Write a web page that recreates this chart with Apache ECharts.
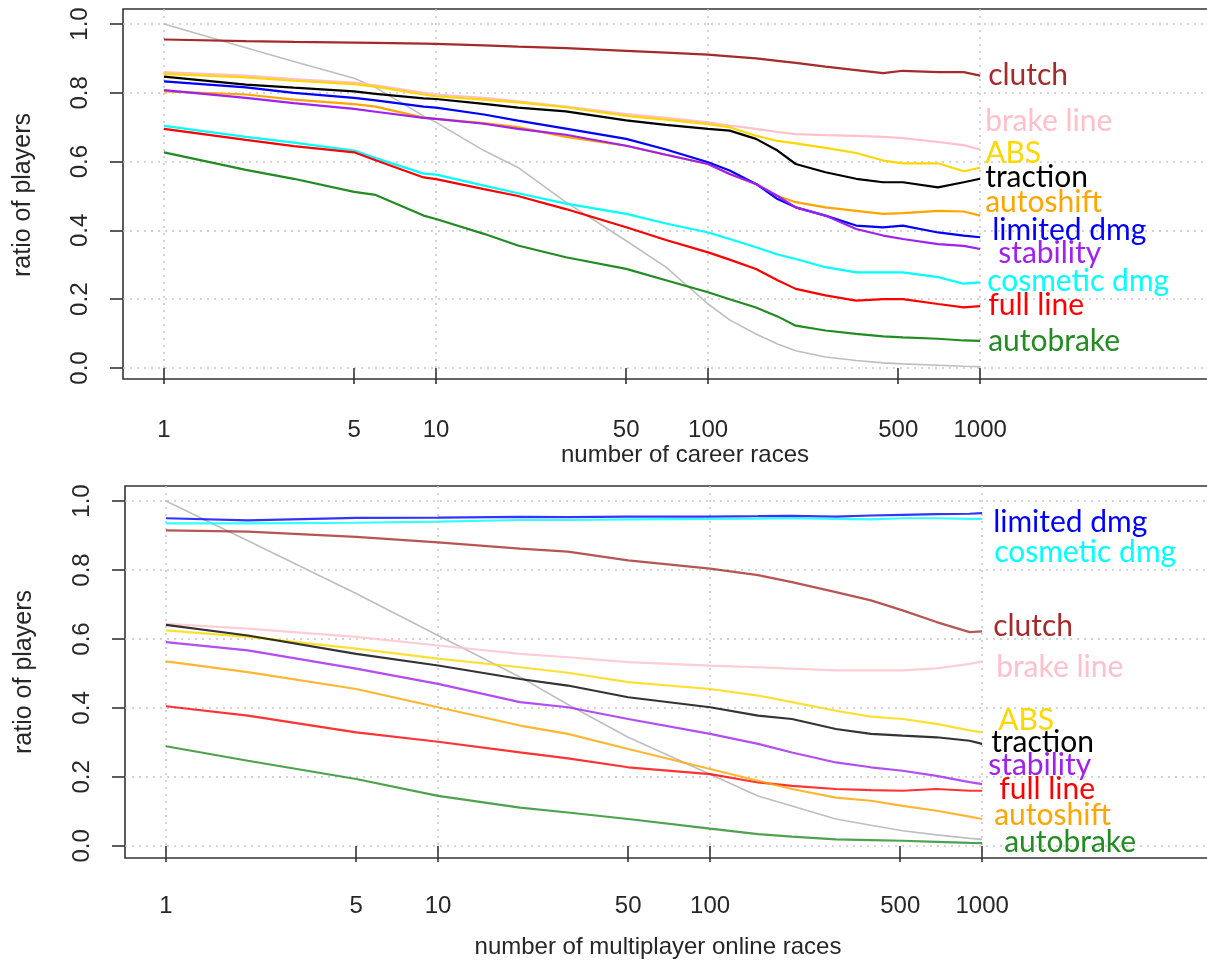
<!DOCTYPE html>
<html>
<head>
<meta charset="utf-8">
<script src="https://cdn.jsdelivr.net/npm/echarts@6/dist/echarts.min.js"></script>
<style>
  html, body { margin: 0; padding: 0; background: #fff; }
  #chart { width: 1207px; height: 966px; }
</style>
</head>
<body>
<div id="chart"></div>
<script>
// x positions (number of races)
var X_TOP = [1, 2, 3, 5, 6, 9, 10, 15, 20, 30, 50, 70, 100, 120, 150, 180, 210, 270, 350, 440, 520, 700, 870, 1000];
var X_BOT = [1, 2, 5, 10, 20, 30, 50, 100, 150, 200, 290, 390, 510, 680, 900, 1000];

var xTicks = [1, 5, 10, 50, 100, 500, 1000];
var xGrid = [1, 10, 100, 1000];
var yTicks = [0, 0.2, 0.4, 0.6, 0.8, 1.0];

// career races (top panel)
var topReference = [1.0, 0.931, 0.891, 0.842, 0.815, 0.733, 0.714, 0.632, 0.583, 0.482, 0.37, 0.293, 0.186, 0.14, 0.099, 0.07, 0.05, 0.032, 0.022, 0.015, 0.012, 0.008, 0.005, 0.004];
var topClutch = [0.955, 0.950, 0.948, 0.946, 0.945, 0.943, 0.942, 0.938, 0.934, 0.930, 0.922, 0.917, 0.911, 0.906, 0.900, 0.893, 0.887, 0.876, 0.866, 0.857, 0.864, 0.860, 0.860, 0.850];
var topBrakeLine = [0.86, 0.85, 0.84, 0.83, 0.822, 0.80, 0.795, 0.785, 0.775, 0.76, 0.738, 0.727, 0.714, 0.705, 0.695, 0.686, 0.68, 0.677, 0.675, 0.672, 0.668, 0.657, 0.648, 0.635];
var topABS = [0.855, 0.845, 0.835, 0.825, 0.818, 0.795, 0.79, 0.78, 0.772, 0.758, 0.733, 0.722, 0.709, 0.70, 0.675, 0.66, 0.653, 0.64, 0.625, 0.603, 0.595, 0.595, 0.572, 0.582];
var topTraction = [0.847, 0.824, 0.815, 0.804, 0.797, 0.784, 0.782, 0.768, 0.757, 0.746, 0.72, 0.707, 0.695, 0.69, 0.666, 0.632, 0.593, 0.569, 0.55, 0.54, 0.54, 0.525, 0.54, 0.55];
var topAutoshift = [0.804, 0.795, 0.78, 0.767, 0.76, 0.728, 0.724, 0.712, 0.70, 0.672, 0.646, 0.62, 0.593, 0.564, 0.535, 0.50, 0.482, 0.467, 0.457, 0.448, 0.45, 0.457, 0.455, 0.443];
var topLimitedDmg = [0.833, 0.816, 0.80, 0.785, 0.778, 0.76, 0.757, 0.737, 0.719, 0.696, 0.666, 0.635, 0.598, 0.574, 0.535, 0.491, 0.467, 0.443, 0.414, 0.409, 0.414, 0.394, 0.385, 0.38];
var topStability = [0.808, 0.785, 0.77, 0.753, 0.745, 0.727, 0.724, 0.71, 0.695, 0.678, 0.646, 0.62, 0.593, 0.564, 0.535, 0.50, 0.467, 0.443, 0.404, 0.385, 0.375, 0.36, 0.355, 0.346];
var topCosmeticDmg = [0.704, 0.672, 0.655, 0.632, 0.61, 0.565, 0.562, 0.53, 0.508, 0.478, 0.448, 0.42, 0.394, 0.375, 0.351, 0.33, 0.317, 0.293, 0.278, 0.278, 0.278, 0.264, 0.245, 0.249];
var topFullLine = [0.695, 0.663, 0.645, 0.627, 0.604, 0.554, 0.549, 0.52, 0.50, 0.462, 0.409, 0.372, 0.336, 0.315, 0.288, 0.255, 0.23, 0.211, 0.196, 0.2, 0.2, 0.186, 0.176, 0.18];
var topAutobrake = [0.627, 0.576, 0.55, 0.512, 0.503, 0.443, 0.433, 0.39, 0.356, 0.322, 0.288, 0.255, 0.22, 0.20, 0.176, 0.15, 0.123, 0.109, 0.099, 0.092, 0.089, 0.085, 0.08, 0.079];

// multiplayer online races (bottom panel)
var botReference = [1.0, 0.885, 0.732, 0.61, 0.49, 0.41, 0.315, 0.208, 0.145, 0.116, 0.078, 0.06, 0.044, 0.032, 0.022, 0.019];
var botLimitedDmg = [0.950, 0.944, 0.951, 0.952, 0.954, 0.953, 0.955, 0.955, 0.956, 0.957, 0.955, 0.958, 0.960, 0.962, 0.963, 0.965];
var botCosmeticDmg = [0.935, 0.935, 0.937, 0.940, 0.945, 0.945, 0.947, 0.948, 0.949, 0.950, 0.948, 0.947, 0.950, 0.950, 0.948, 0.948];
var botClutch = [0.915, 0.911, 0.896, 0.88, 0.862, 0.853, 0.828, 0.804, 0.785, 0.765, 0.736, 0.712, 0.683, 0.649, 0.62, 0.622];
var botBrakeLine = [0.644, 0.63, 0.606, 0.581, 0.557, 0.547, 0.533, 0.523, 0.518, 0.514, 0.509, 0.509, 0.509, 0.515, 0.528, 0.535];
var botABS = [0.625, 0.606, 0.572, 0.543, 0.518, 0.502, 0.475, 0.455, 0.436, 0.417, 0.392, 0.375, 0.368, 0.354, 0.335, 0.329];
var botTraction = [0.641, 0.61, 0.557, 0.523, 0.484, 0.465, 0.431, 0.402, 0.378, 0.368, 0.339, 0.325, 0.32, 0.315, 0.305, 0.296];
var botStability = [0.591, 0.567, 0.514, 0.47, 0.417, 0.402, 0.368, 0.325, 0.296, 0.271, 0.242, 0.228, 0.218, 0.203, 0.185, 0.179];
var botFullLine = [0.405, 0.378, 0.329, 0.302, 0.271, 0.254, 0.228, 0.208, 0.184, 0.174, 0.165, 0.162, 0.16, 0.165, 0.16, 0.16];
var botAutoshift = [0.535, 0.504, 0.455, 0.402, 0.349, 0.325, 0.281, 0.223, 0.189, 0.165, 0.14, 0.131, 0.116, 0.102, 0.085, 0.078];
var botAutobrake = [0.289, 0.247, 0.194, 0.145, 0.111, 0.097, 0.078, 0.05, 0.034, 0.027, 0.019, 0.017, 0.015, 0.012, 0.009, 0.008];

var COLORS = {
    clutch: '#a52a2a', brake: '#ffc0cb', abs: '#ffd700', traction: '#000000',
    autoshift: '#ffa500', limited: '#0000ff', stability: '#a020f0',
    cosmetic: '#00ffff', full: '#ff0000', autobrake: '#228b22', ref: '#bebebe'
};

var textColor = '#262626';
var tickFont = 'Liberation Sans, Arial, sans-serif';

function pairs(xs, ys) {
    return xs.map(function(x, i) { return [x, ys[i]]; });
}

// one coloured curve with its name written at the right end
function curve(name, color, xs, ys, xAxisIndex, yAxisIndex, offset, opacity) {
    return {
        name: name,
        type: 'line',
        xAxisIndex: xAxisIndex,
        yAxisIndex: yAxisIndex,
        data: pairs(xs, ys),
        showSymbol: false,
        symbol: 'none',
        silent: true,
        animation: false,
        lineStyle: { color: color, width: 2.2, opacity: opacity },
        endLabel: {
            show: true,
            formatter: name,
            color: color,
            fontFamily: 'Lato',
            fontSize: 30,
            distance: 5,
            offset: offset
        }
    };
}

function refCurve(xs, ys, xAxisIndex, yAxisIndex) {
    return {
        name: 'all players',
        type: 'line',
        xAxisIndex: xAxisIndex,
        yAxisIndex: yAxisIndex,
        data: pairs(xs, ys),
        showSymbol: false,
        symbol: 'none',
        silent: true,
        animation: false,
        lineStyle: { color: COLORS.ref, width: 1.6 }
    };
}

function labelAxis(gridIndex, margin) {
    return {
        type: 'log',
        gridIndex: gridIndex,
        min: 0.707,
        max: 14125,
        axisLine: { show: false },
        axisTick: { show: true, length: 16, customValues: xTicks, lineStyle: { color: '#333', width: 1.6 } },
        axisLabel: {
            customValues: xTicks,
            color: textColor,
            fontFamily: tickFont,
            fontSize: 24,
            margin: margin,
            formatter: function(v) { return String(Math.round(v)); }
        },
        splitLine: { show: false }
    };
}

function gridAxis(gridIndex) {
    return {
        type: 'log',
        gridIndex: gridIndex,
        position: 'bottom',
        min: 0.707,
        max: 14125,
        axisLine: { show: false },
        axisTick: { show: false, customValues: xGrid },
        axisLabel: { show: false, customValues: xGrid },
        splitLine: { show: true, lineStyle: { color: '#c8c8c8', width: 1.5, type: [2, 5] } }
    };
}

function yAxis(gridIndex, min, max) {
    return {
        type: 'value',
        gridIndex: gridIndex,
        min: min,
        max: max,
        axisLine: { show: false },
        axisTick: { show: true, length: 13, customValues: yTicks, lineStyle: { color: '#333', width: 1.6 } },
        axisLabel: {
            customValues: yTicks,
            rotate: 90,
            margin: 31,
            color: textColor,
            fontFamily: tickFont,
            fontSize: 24,
            formatter: function(v) { return v.toFixed(1); }
        },
        splitLine: { show: true, lineStyle: { color: '#c8c8c8', width: 1.5, type: [2, 5] } }
    };
}

var titleStyle = { fill: textColor, font: '24px "Liberation Sans", Arial, sans-serif', align: 'center', verticalAlign: 'middle' };
var yTitleFont = '25px "Liberation Sans", Arial, sans-serif';

var option = {
    backgroundColor: '#fff',
    animation: false,
    grid: [
        { left: 123, top: 9, width: 1170, height: 370, outerBoundsMode: 'none', containLabel: false, show: true, borderColor: '#333', borderWidth: 1.6, backgroundColor: 'transparent' },
        { left: 125, top: 486, width: 1170, height: 372, outerBoundsMode: 'none', containLabel: false, show: true, borderColor: '#333', borderWidth: 1.6, backgroundColor: 'transparent' }
    ],
    xAxis: [labelAxis(0, 39), gridAxis(0), labelAxis(1, 36), gridAxis(1)],
    yAxis: [yAxis(0, -0.032, 1.0436), yAxis(1, -0.035, 1.0435)],
    graphic: [
        { type: 'text', x: 685, y: 455, style: Object.assign({ text: 'number of career races' }, titleStyle) },
        { type: 'text', x: 658, y: 947, style: Object.assign({ text: 'number of multiplayer online races' }, titleStyle) },
        { type: 'text', x: 23, y: 195, rotation: Math.PI / 2, style: Object.assign({ text: 'ratio of players' }, titleStyle, { font: yTitleFont }) },
        { type: 'text', x: 24, y: 672, rotation: Math.PI / 2, style: Object.assign({ text: 'ratio of players' }, titleStyle, { font: yTitleFont }) }
    ],
    series: [
        refCurve(X_TOP, topReference, 0, 0),
        curve('clutch', COLORS.clutch, X_TOP, topClutch, 0, 0, [3, 0], 1),
        curve('brake line', COLORS.brake, X_TOP, topBrakeLine, 0, 0, [0, -28], 1),
        curve('ABS', COLORS.abs, X_TOP, topABS, 0, 0, [0, -14], 1),
        curve('traction', COLORS.traction, X_TOP, topTraction, 0, 0, [0, -1], 1),
        curve('autoshift', COLORS.autoshift, X_TOP, topAutoshift, 0, 0, [0, -13], 1),
        curve('limited dmg', COLORS.limited, X_TOP, topLimitedDmg, 0, 0, [7, -7], 1),
        curve('stability', COLORS.stability, X_TOP, topStability, 0, 0, [13, 4], 1),
        curve('cosmetic dmg', COLORS.cosmetic, X_TOP, topCosmeticDmg, 0, 0, [2, -1], 1),
        curve('full line', COLORS.full, X_TOP, topFullLine, 0, 0, [3, -1], 1),
        curve('autobrake', COLORS.autobrake, X_TOP, topAutobrake, 0, 0, [3, 1], 1),

        refCurve(X_BOT, botReference, 2, 1),
        curve('limited dmg', COLORS.limited, X_BOT, botLimitedDmg, 2, 1, [6, 9], 0.8),
        curve('cosmetic dmg', COLORS.cosmetic, X_BOT, botCosmeticDmg, 2, 1, [7, 33], 0.8),
        curve('clutch', COLORS.clutch, X_BOT, botClutch, 2, 1, [6, -5], 0.8),
        curve('brake line', COLORS.brake, X_BOT, botBrakeLine, 2, 1, [9, 6], 0.8),
        curve('ABS', COLORS.abs, X_BOT, botABS, 2, 1, [11, -12], 0.8),
        curve('traction', COLORS.traction, X_BOT, botTraction, 2, 1, [4, -2], 0.8),
        curve('stability', COLORS.stability, X_BOT, botStability, 2, 1, [1, -19], 0.8),
        curve('full line', COLORS.full, X_BOT, botFullLine, 2, 1, [12, -1], 0.8),
        curve('autoshift', COLORS.autoshift, X_BOT, botAutoshift, 2, 1, [7, -4], 0.8),
        curve('autobrake', COLORS.autobrake, X_BOT, botAutobrake, 2, 1, [17, -1], 0.8)
    ]
};

var chart = echarts.init(document.getElementById('chart'));
chart.setOption(option);
</script>
</body>
</html>
